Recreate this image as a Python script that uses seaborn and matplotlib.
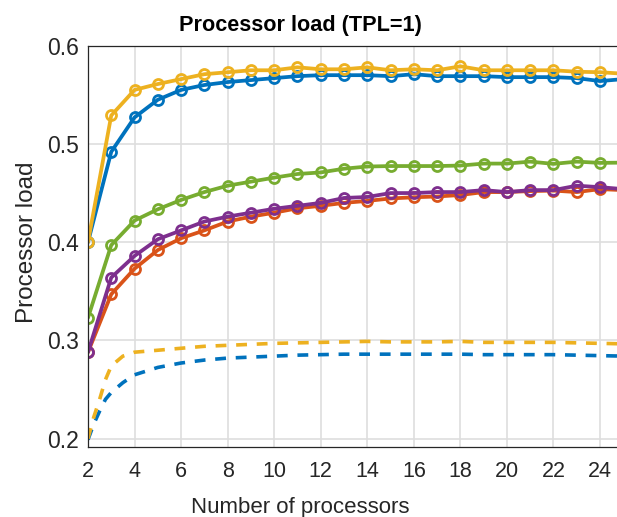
import numpy as np
import pandas as pd
import seaborn as sns
import matplotlib.pyplot as plt

# number of processors (x axis)
processors = list(range(2, 26))

# measured processor load, one list per curve (MATLAB colour order)
load_blue = [0.400, 0.492, 0.527, 0.545, 0.555, 0.560, 0.563, 0.565, 0.567, 0.569, 0.570, 0.570,
             0.570, 0.569, 0.571, 0.569, 0.569, 0.569, 0.568, 0.568, 0.568, 0.567, 0.564, 0.566]
load_red = [0.288, 0.347, 0.373, 0.392, 0.404, 0.412, 0.421, 0.426, 0.430, 0.4345, 0.437, 0.440,
            0.442, 0.4445, 0.4457, 0.4465, 0.448, 0.451, 0.451, 0.452, 0.4525, 0.451, 0.454, 0.453]
load_yellow = [0.400, 0.529, 0.555, 0.561, 0.566, 0.571, 0.573, 0.575, 0.575, 0.578, 0.576, 0.576,
               0.578, 0.575, 0.576, 0.575, 0.579, 0.575, 0.575, 0.575, 0.575, 0.5735, 0.573, 0.5715]
load_purple = [0.288, 0.364, 0.386, 0.403, 0.412, 0.421, 0.426, 0.430, 0.434, 0.437, 0.440, 0.445,
               0.446, 0.450, 0.450, 0.451, 0.451, 0.453, 0.451, 0.453, 0.453, 0.4575, 0.456, 0.454]
load_green = [0.323, 0.397, 0.422, 0.4335, 0.443, 0.451, 0.4575, 0.4616, 0.4657, 0.4694, 0.471, 0.4748,
              0.477, 0.4775, 0.4775, 0.4775, 0.478, 0.480, 0.480, 0.482, 0.4797, 0.482, 0.4807, 0.481]

# dashed curves (finer sampling near the start)
dash_x = [2, 2.25, 2.5, 2.75, 3, 3.5, 4, 5, 6, 7, 8, 9, 10, 11, 12, 13, 14, 15, 16, 17, 18,
          19, 20, 21, 22, 23, 24, 25]
bound_yellow = [0.200, 0.222, 0.240, 0.260, 0.274, 0.284, 0.288, 0.290, 0.292, 0.294, 0.295, 0.296,
                0.297, 0.2975, 0.298, 0.2985, 0.299, 0.2985, 0.2985, 0.2985, 0.299, 0.298, 0.298,
                0.298, 0.298, 0.2975, 0.297, 0.2965]
bound_blue = [0.199, 0.215, 0.228, 0.240, 0.247, 0.257, 0.265, 0.2725, 0.277, 0.280, 0.282, 0.283,
              0.284, 0.285, 0.2855, 0.286, 0.286, 0.286, 0.286, 0.286, 0.286, 0.2855, 0.2855,
              0.2855, 0.2855, 0.285, 0.2845, 0.284]

blue = "#0072BD"
red = "#D95319"
yellow = "#EDB120"
purple = "#7E2F8E"
green = "#77AC30"
dark = "#262626"

sns.set_style("white")
plt.rcParams["font.family"] = ["Liberation Sans", "DejaVu Sans"]

fig = plt.figure(figsize=(6.17, 5.17), dpi=100)
ax = fig.add_axes([0.1426, 0.1354, 0.8676, 0.7762])

# dashed curves
for vals, col in [(bound_blue, blue), (bound_yellow, yellow)]:
    sns.lineplot(x=dash_x, y=vals, color=col, lw=2.6, ls=(0, (3, 2.7)), ax=ax)

# measured curves with open circles
for vals, col in [(load_blue, blue), (load_red, red), (load_yellow, yellow),
                  (load_purple, purple), (load_green, green)]:
    sns.lineplot(x=processors, y=vals, color=col, lw=2.7, marker="o", ms=7.2,
                 mfc="none", mec=col, mew=2.0, ax=ax)

ax.set_xlim(2, 25)
ax.set_ylim(0.1915, 0.6)
ax.set_xticks(range(2, 25, 2))
ax.set_yticks([0.2, 0.3, 0.4, 0.5, 0.6])
ax.set_yticklabels(["0.2", "0.3", "0.4", "0.5", "0.6"])

ax.set_axisbelow(True)
ax.grid(True, color="#dedede", lw=1.2)
for side in ["left", "bottom", "top", "right"]:
    ax.spines[side].set_color(dark)
    ax.spines[side].set_linewidth(0.9)

ax.tick_params(direction="in", length=5, width=0.9, color=dark, labelcolor=dark)
ax.tick_params(axis="x", labelsize=15.5, pad=10)
ax.tick_params(axis="y", labelsize=16.5, pad=6.5)

ax.text(0.396, 1.0366, "Processor load (TPL=1)", transform=ax.transAxes, ha="center",
        va="baseline", fontsize=15.6, fontweight="bold", color="black")

ax.set_xlabel("Number of processors", fontsize=16, color=dark)
ax.xaxis.set_label_coords(0.396, -0.1645)
ax.xaxis.label.set_va("baseline")
ax.set_ylabel("Processor load", fontsize=17.5, color=dark)
ax.yaxis.set_label_coords(-0.113, 0.5096)
ax.yaxis.label.set_va("center")

fig.savefig("out.png", dpi=100)
